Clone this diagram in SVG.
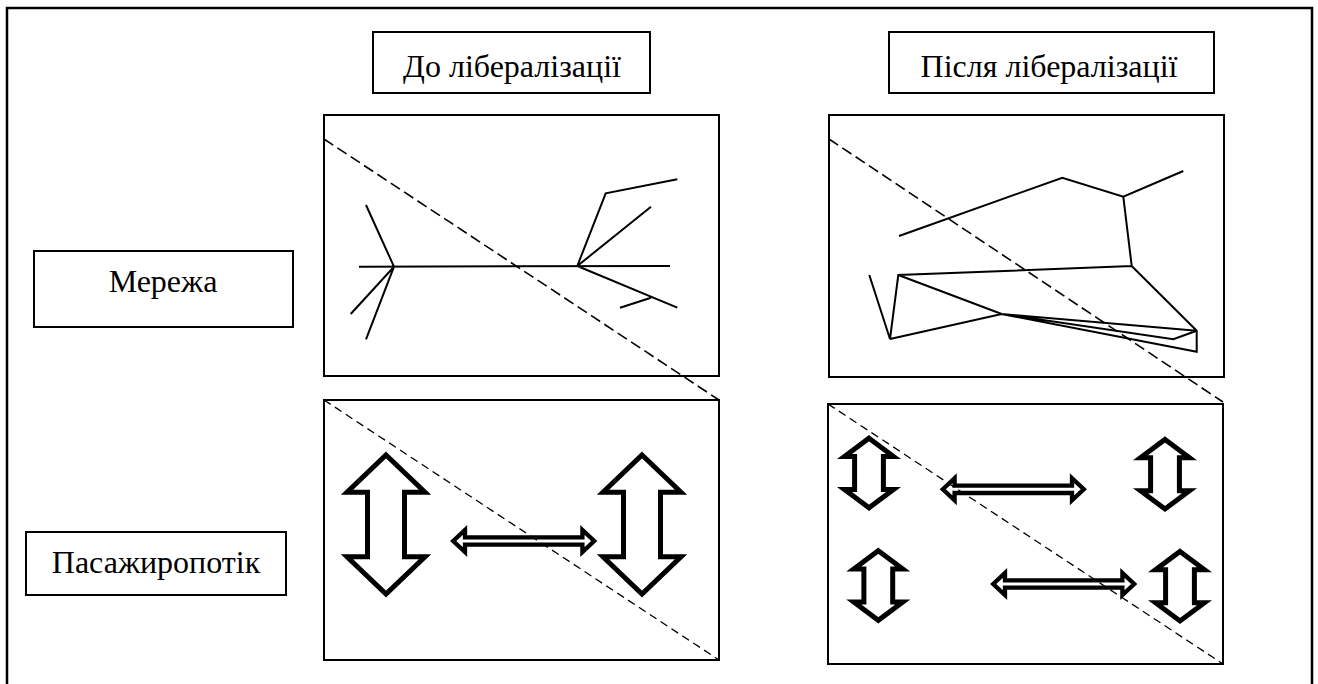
<svg xmlns="http://www.w3.org/2000/svg" xmlns:xlink="http://www.w3.org/1999/xlink" width="1318" height="684" viewBox="0 0 1318 684">
  <style>
    .box { fill: #fff; stroke: #000; stroke-width: 2; }
    .panel { fill: #fff; stroke: #000; stroke-width: 2; }
    .lbl { font-family: "Liberation Serif", "Times New Roman", serif; font-size: 32px; fill: #000; text-anchor: middle; }
    .net { fill: none; stroke: #000; stroke-width: 2; stroke-linejoin: miter; stroke-linecap: butt; }
    .diag-top { fill: none; stroke: #000; stroke-width: 1.6; stroke-dasharray: 11 5; }
    .diag-bot { fill: none; stroke: #000; stroke-width: 1.3; stroke-dasharray: 8 5; }
    .arr { fill: #fff; stroke: #000; stroke-linejoin: miter; stroke-miterlimit: 10; }
  </style>
  <defs>
    <!-- large vertical double arrow, centred on (0,0) -->
    <path id="bigV" class="arr" stroke-width="5" d="M0,-69.5 L39,-32.2 L18.5,-32.2 L18.5,32.2 L39,32.2 L0,69.5 L-39,32.2 L-18.5,32.2 L-18.5,-32.2 L-39,-32.2 Z"/>
    <!-- small vertical double arrow -->
    <path id="smallV" class="arr" stroke-width="5" d="M0,-34.8 L24.5,-16.5 L14.4,-16.5 L14.4,16.5 L24.5,16.5 L0,34.8 L-24.5,16.5 L-14.4,16.5 L-14.4,-16.5 L-24.5,-16.5 Z"/>
    <!-- horizontal double arrow -->
    <path id="hArr" class="arr" stroke-width="4.3" d="M-70.5,0 L-58.7,-11 L-58.7,-3.7 L58.7,-3.7 L58.7,-11 L70.5,0 L58.7,11 L58.7,3.7 L-58.7,3.7 L-58.7,11 Z"/>
  </defs>

  <rect width="1318" height="684" fill="#fff"/>

  <!-- outer frame (open at the bottom) -->
  <path d="M7,684 L7,8 L1312,8 L1312,684" fill="none" stroke="#000" stroke-width="2.5"/>

  <!-- column headers -->
  <g id="hdr-before">
    <rect class="box" x="373" y="32" width="277" height="61"/>
    <text class="lbl" x="512" y="77">До лібералізації</text>
  </g>
  <g id="hdr-after">
    <rect class="box" x="889" y="32" width="325" height="61"/>
    <text class="lbl" x="1049" y="77">Після лібералізації</text>
  </g>

  <!-- row labels -->
  <g id="row-network">
    <rect class="box" x="34" y="251" width="259" height="76"/>
    <text class="lbl" x="163" y="292">Мережа</text>
  </g>
  <g id="row-flow">
    <rect class="box" x="26" y="532" width="260" height="63"/>
    <text class="lbl" x="156" y="573">Пасажиропотік</text>
  </g>

  <!-- network before: two hub-and-spoke stars -->
  <g id="net-before">
    <rect class="panel" x="324" y="115" width="395" height="261"/>
    <path class="net" d="M359,266.7 L670,266
                         M366,205 L394,266.7 L350.7,314
                         M394,266.7 L366,339.3
                         M577.3,266 L605.7,193.3 L677.3,179.3
                         M577.3,266 L651,206.7
                         M577.3,266 L677.3,307.7
                         M620,307.7 L651,297.7"/>
  </g>

  <!-- network after: meshed point-to-point links -->
  <g id="net-after">
    <rect class="panel" x="829" y="115" width="395" height="262"/>
    <path class="net" d="M899,236 L1062.3,177.7 L1123.3,196.7 L1183.3,171
                         M1123.3,196.7 L1131.7,266
                         M869.3,275 L890,339 L898.3,275 L1131.7,266 L1196.7,330.7 L1196.7,351.7 L1001.7,314 L898.3,275
                         M890,339 L1001.7,314 L1196.7,330.7
                         M1001.7,314 L1173.3,339.3 L1196.7,330.7"/>
  </g>

  <!-- passenger flow before -->
  <g id="flow-before">
    <rect class="panel" x="324" y="400" width="395" height="260"/>
    <use xlink:href="#bigV" x="386" y="524.5"/>
    <use xlink:href="#bigV" x="642" y="524.5"/>
    <use xlink:href="#hArr" x="523.7" y="541"/>
  </g>

  <!-- passenger flow after -->
  <g id="flow-after">
    <rect class="panel" x="828" y="404" width="395" height="260"/>
    <use xlink:href="#smallV" x="869" y="473"/>
    <use xlink:href="#smallV" x="1165" y="474.2"/>
    <use xlink:href="#smallV" x="878.3" y="585.5"/>
    <use xlink:href="#smallV" x="1180" y="586.2"/>
    <use xlink:href="#hArr" x="1013.3" y="489.3"/>
    <use xlink:href="#hArr" x="1063.7" y="584"/>
  </g>

  <!-- dashed diagonals across the panels -->
  <g id="connectors">
    <line class="diag-top" x1="324" y1="139" x2="719" y2="400"/>
    <line class="diag-top" x1="829" y1="139" x2="1223" y2="402"/>
    <line class="diag-bot" x1="324" y1="400" x2="719" y2="660"/>
    <line class="diag-bot" x1="828" y1="404" x2="1223" y2="664"/>
  </g>
</svg>
